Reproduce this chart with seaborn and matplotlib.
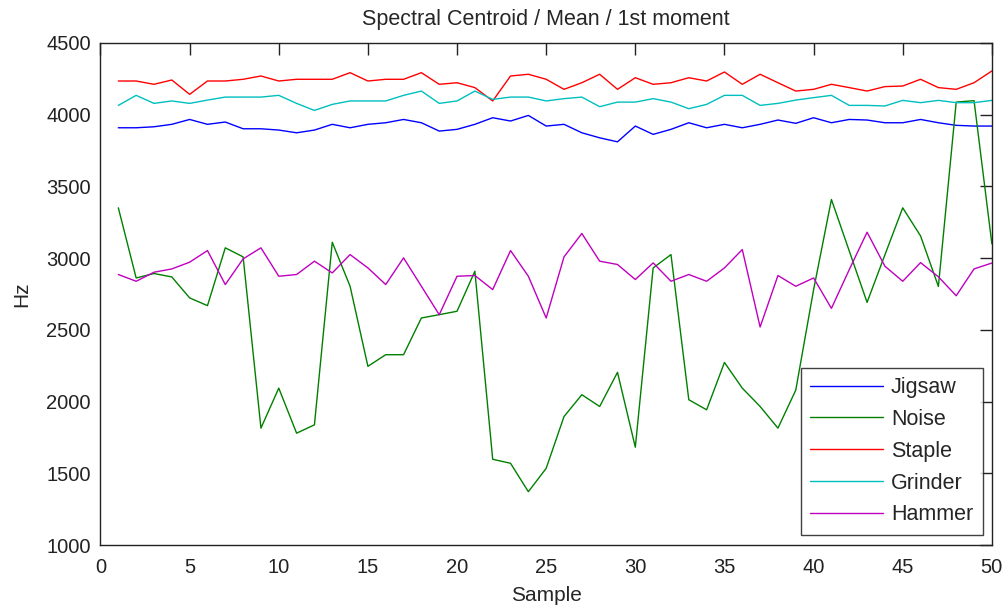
import numpy as np
import pandas as pd
import matplotlib
matplotlib.use("Agg")
import matplotlib.pyplot as plt
import seaborn as sns

samples = list(range(1, 51))

jigsaw = [3909, 3909, 3916, 3933, 3967, 3933, 3949, 3902, 3902, 3893,
          3874, 3893, 3933, 3909, 3933, 3944, 3967, 3944, 3886, 3898,
          3933, 3979, 3956, 3995, 3921, 3933, 3874, 3839, 3811, 3921,
          3863, 3898, 3944, 3909, 3933, 3909, 3933, 3963, 3940, 3979,
          3944, 3967, 3963, 3944, 3944, 3967, 3944, 3926, 3921, 3921]

noise = [3351, 2862, 2893, 2869, 2723, 2669, 3072, 3009, 1815, 2094,
         1780, 1838, 3111, 2804, 2246, 2327, 2327, 2583, 2606, 2630,
         2909, 1598, 1570, 1372, 1535, 1896, 2048, 1966, 2204, 1682,
         2932, 3025, 2013, 1943, 2273, 2094, 1966, 1815, 2080, 2780,
         3409, 3050, 2692, 3023, 3351, 3155, 2803, 4088, 4098, 3100]

staple = [4235, 4235, 4212, 4242, 4142, 4235, 4235, 4247, 4270, 4235,
          4247, 4247, 4247, 4293, 4235, 4247, 4247, 4293, 4212, 4223,
          4189, 4096, 4270, 4282, 4247, 4177, 4223, 4282, 4177, 4258,
          4212, 4223, 4258, 4235, 4298, 4212, 4282, 4223, 4165, 4177,
          4212, 4189, 4165, 4196, 4200, 4247, 4189, 4177, 4223, 4305]

grinder = [4065, 4135, 4079, 4096, 4079, 4102, 4123, 4123, 4123, 4135,
           4079, 4030, 4072, 4096, 4096, 4096, 4135, 4165, 4079, 4096,
           4165, 4107, 4123, 4123, 4096, 4112, 4123, 4056, 4088, 4088,
           4112, 4088, 4042, 4072, 4135, 4135, 4065, 4079, 4102, 4119,
           4135, 4065, 4065, 4061, 4100, 4084, 4100, 4084, 4084, 4100]

hammer = [2886, 2839, 2902, 2925, 2972, 3053, 2816, 2995, 3072, 2874,
          2886, 2979, 2897, 3025, 2932, 2816, 3002, 2804, 2606, 2874,
          2879, 2781, 3053, 2874, 2583, 3009, 3172, 2979, 2956, 2851,
          2967, 2839, 2886, 2839, 2932, 3060, 2520, 2879, 2804, 2862,
          2650, 2920, 3181, 2944, 2839, 2969, 2870, 2738, 2925, 2966]

series_names = ["Jigsaw", "Noise", "Staple", "Grinder", "Hammer"]
series_values = [jigsaw, noise, staple, grinder, hammer]
colors = ["#0000ff", "#008000", "#ff0000", "#00bfbf", "#bf00bf"]

x_ticks = [0, 5, 10, 15, 20, 25, 30, 35, 40, 45, 50]
y_ticks = [1000, 1500, 2000, 2500, 3000, 3500, 4000, 4500]

df = pd.concat(
    [pd.DataFrame({"Sample": samples, "Hz": vals, "Source": name})
     for name, vals in zip(series_names, series_values)],
    ignore_index=True,
)

sns.set_theme(style="white")
plt.rcParams["font.family"] = ["Liberation Sans", "DejaVu Sans"]

fig = plt.figure(figsize=(10.08, 6.09), dpi=100)
ax = fig.add_axes([0.0997, 0.105, 0.8843, 0.8244])

sns.lineplot(data=df, x="Sample", y="Hz", hue="Source",
             hue_order=series_names, palette=colors, linewidth=1.0,
             ax=ax, estimator=None, sort=False)

ax.set_xlim(0, 50)
ax.set_ylim(1000, 4500)
ax.set_xticks(x_ticks)
ax.set_yticks(y_ticks)
ax.tick_params(direction="in", length=8.5, width=1, top=True, right=True,
               labelsize=14.5, colors="#222222")
ax.tick_params(axis="x", pad=9)
ax.tick_params(axis="y", pad=7)
for sp in ax.spines.values():
    sp.set_visible(True)
    sp.set_color("#222222")
    sp.set_linewidth(1.0)

ax.set_title("Spectral Centroid / Mean / 1st moment", fontsize=15.5, pad=13)
ax.set_xlabel("Sample", fontsize=15, labelpad=7)
ax.set_ylabel("Hz", fontsize=15, labelpad=11)

leg = ax.legend(loc="lower right", fontsize=15.5, frameon=True, fancybox=False,
                edgecolor="#111111", handlelength=3.4, handletextpad=0.35,
                borderpad=0.45, labelspacing=0.5, borderaxespad=0.0,
                bbox_to_anchor=(0.99, 0.02))
leg.get_frame().set_linewidth(1.0)
leg.get_frame().set_facecolor("white")

fig.savefig("out.png", dpi=100, facecolor="white")
